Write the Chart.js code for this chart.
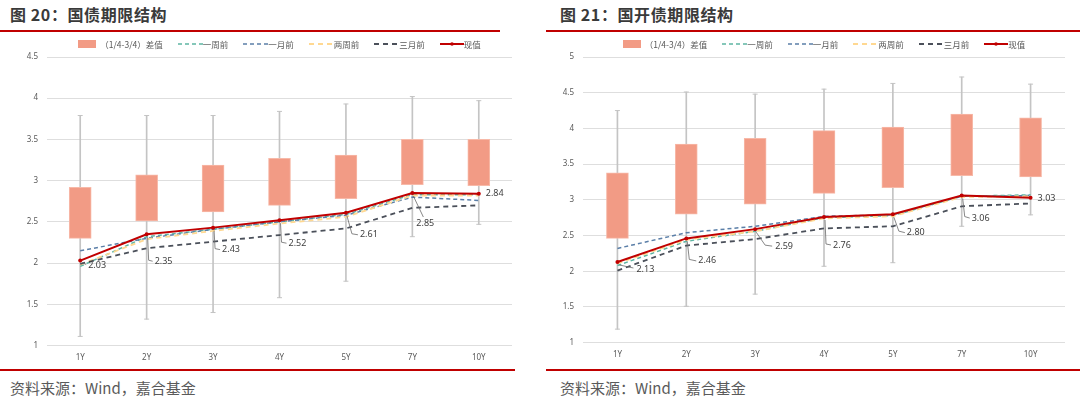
<!DOCTYPE html>
<html><head><meta charset="utf-8">
<script src="https://cdn.jsdelivr.net/npm/chart.js@4.4.0/dist/chart.umd.min.js"></script>
<style>
body{margin:0;background:#fff;width:1080px;height:401px;overflow:hidden;position:relative;font-family:"Noto Sans CJK SC","Noto Sans",sans-serif;}
.title{position:absolute;top:4px;font-size:16px;font-weight:bold;color:#3a3a3a;letter-spacing:0.6px;line-height:20px;white-space:nowrap;}
.rule{position:absolute;height:2px;background:#C00000;}
.src{position:absolute;top:377px;font-size:15px;color:#5a5a5a;line-height:22px;white-space:nowrap;}
.wrap{position:absolute;top:0;width:540px;height:370px;}
.legend{position:absolute;top:37px;height:14px;display:flex;align-items:center;justify-content:center;font-size:8.5px;color:#595959;white-space:nowrap;}
.legend .it{display:flex;align-items:center;margin:0 7.5px;}
.legend svg{display:block;}
</style></head>
<body>
<div class="title" style="left:10px">图 20：国债期限结构</div>
<div class="title" style="left:560px">图 21：国开债期限结构</div>
<div class="rule" style="left:0;top:30px;width:500px"></div>
<div class="rule" style="left:546px;top:30px;width:534px"></div>
<div class="rule" style="left:0;top:369px;width:515px"></div>
<div class="rule" style="left:546px;top:369px;width:534px"></div>
<div class="src" style="left:10px">资料来源：Wind，嘉合基金</div>
<div class="src" style="left:560px">资料来源：Wind，嘉合基金</div>
<div class="wrap" style="left:0"><canvas id="c1"></canvas></div>
<div class="wrap" style="left:540px"><canvas id="c2"></canvas></div>
<div class="legend" id="lg1" style="left:47px;width:465px"></div>
<div class="legend" id="lg2" style="left:583px;width:482px"></div>
<script>
// ---- data ----
const categories = ['1Y','2Y','3Y','4Y','5Y','7Y','10Y'];
const seriesNames = ['（1/4-3/4）差值','一周前','一月前','两周前','三月前','现值'];
// 国债
const gzMin = [1.11,1.32,1.40,1.58,1.78,2.32,2.47];
const gzMax = [3.79,3.79,3.79,3.84,3.93,4.02,3.97];
const gzQ1 = [2.30,2.51,2.62,2.70,2.78,2.95,2.94];
const gzQ3 = [2.92,3.07,3.19,3.27,3.31,3.50,3.50];
const gzWeek1 = [1.96,2.32,2.41,2.50,2.59,2.83,2.83];
const gzMonth1 = [2.15,2.30,2.41,2.50,2.58,2.80,2.76];
const gzWeek2 = [1.98,2.29,2.39,2.48,2.56,2.82,2.82];
const gzMonth3 = [1.99,2.18,2.26,2.34,2.42,2.67,2.70];
const gzNow = [2.03,2.35,2.43,2.52,2.61,2.85,2.84];
const gzTicks = {min:1, max:4.5, step:0.5};
// 国开债
const gkMin = [1.19,1.51,1.68,2.07,2.12,2.63,2.79];
const gkMax = [4.25,4.51,4.48,4.55,4.63,4.72,4.62];
const gkQ1 = [2.46,2.80,2.94,3.09,3.17,3.34,3.32];
const gkQ3 = [3.38,3.78,3.86,3.97,4.02,4.20,4.15];
const gkWeek1 = [2.08,2.42,2.56,2.75,2.78,3.05,3.07];
const gkMonth1 = [2.32,2.54,2.63,2.77,2.79,3.05,3.06];
const gkWeek2 = [2.11,2.44,2.56,2.74,2.77,3.04,3.05];
const gkMonth3 = [2.01,2.36,2.45,2.60,2.63,2.91,2.95];
const gkNow = [2.13,2.46,2.59,2.76,2.80,3.06,3.03];
const gkTicks = {min:1, max:5, step:0.5};

// ---- styles ----
const COL = {box:'#F29B85', boxBorder:'#F7B9A8', whisker:'#C4C4C4', week1:'#5DB5A3', month1:'#5B7FA8', week2:'#FFD891', month3:'#4B505A', now:'#C00000'};
const lineStyles = [
  {c:COL.week1, w:1.5, d:[4,3]},
  {c:COL.month1, w:1.5, d:[4,3]},
  {c:COL.week2, w:1.8, d:[5,4]},
  {c:COL.month3, w:1.8, d:[5,4]}
];
const labelLayout1 = [
  {dx:8, dy:5, path:[[2,2],[6,4]]},
  {dx:8, dy:27, path:[[1,3],[2,26],[6,27]]},
  {dx:9, dy:22, path:[[1,3],[2,21],[7,22]]},
  {dx:9, dy:23, path:[[1,3],[2,22],[7,23]]},
  {dx:14, dy:22, path:[[1,3],[6,21],[12,22]]},
  {dx:4, dy:30, path:[[1,3],[11,24]]},
  {dx:7, dy:0, path:null}
];
const labelLayout2 = [
  {dx:19, dy:7, path:[[2,3],[16,6]]},
  {dx:12, dy:22.5, path:[[1,3],[3,21],[10,22.5]]},
  {dx:20, dy:17, path:[[1,3],[10,16],[17,17]]},
  {dx:9, dy:28, path:[[1,3],[2,27],[7,28]]},
  {dx:14, dy:18.5, path:[[1,3],[6,17],[12,18.5]]},
  {dx:10, dy:22.5, path:[[1,3],[3,21],[8,22.5]]},
  {dx:7, dy:1, path:null}
];

const labelPlugin = {
  id:'nowLabels',
  afterDatasetsDraw(chart, args, opts){
    const idx = chart.data.datasets.findIndex(d=>d.label==='现值');
    const meta = chart.getDatasetMeta(idx);
    const ctx = chart.ctx;
    const data = chart.data.datasets[idx].data;
    ctx.save();
    ctx.font = '9px "Noto Sans","Noto Sans CJK SC",sans-serif';
    ctx.fillStyle = '#404040';
    ctx.textBaseline = 'middle';
    ctx.textAlign = 'left';
    meta.data.forEach((pt,i)=>{
      const L = opts.layout[i];
      if(L.path){
        ctx.beginPath();
        ctx.strokeStyle = '#6a6a6a';
        ctx.lineWidth = 0.8;
        L.path.forEach((p,j)=>{ const x=pt.x+p[0], y=pt.y+p[1]; if(j===0) ctx.moveTo(x,y); else ctx.lineTo(x,y); });
        ctx.stroke();
      }
      ctx.fillText(data[i].toFixed(2), pt.x+L.dx, pt.y+L.dy);
    });
    ctx.restore();
  }
};

function makeChart(id, d, ticks, pad, yWidth, layout){
  const ds = [
    {type:'bar', label:'whisker', data:d.min.map((v,i)=>[v,d.max[i]]), backgroundColor:COL.whisker, barThickness:1, grouped:false, order:10},
    {type:'line', label:'capMax', data:d.max, showLine:false, pointStyle:'line', pointRadius:2.5, borderColor:COL.whisker, borderWidth:1, order:9},
    {type:'line', label:'capMin', data:d.min, showLine:false, pointStyle:'line', pointRadius:2.5, borderColor:COL.whisker, borderWidth:1, order:9},
    {type:'bar', label:seriesNames[0], data:d.q1.map((v,i)=>[v,d.q3[i]]), backgroundColor:COL.box, borderColor:COL.boxBorder, borderWidth:1, borderSkipped:false, barThickness:22, grouped:false, order:8}
  ];
  [d.w1,d.m1,d.w2,d.m3].forEach((arr,k)=>{
    const s = lineStyles[k];
    ds.push({type:'line', label:seriesNames[k+1], data:arr, borderColor:s.c, borderWidth:s.w, borderDash:s.d, pointRadius:0, tension:0, fill:false, order:6-k});
  });
  ds.push({type:'line', label:'现值', data:d.now, borderColor:COL.now, backgroundColor:COL.now, borderWidth:2, pointRadius:2, pointBackgroundColor:COL.now, pointBorderWidth:0, tension:0, fill:false, order:0});
  return new Chart(document.getElementById(id), {
    data:{labels:categories, datasets:ds},
    options:{
      responsive:true, maintainAspectRatio:false, animation:false,
      layout:{padding:pad},
      plugins:{legend:{display:false}, tooltip:{enabled:false}, nowLabels:{layout:layout}},
      scales:{
        x:{type:'category', grid:{display:false, drawTicks:false}, border:{display:false},
           ticks:{color:'#595959', font:{size:8, family:'"Noto Sans",sans-serif'}, padding:7},
           afterFit:s=>{s.height=20;}},
        y:{min:ticks.min, max:ticks.max, grid:{color:'#DEDEDE', lineWidth:1, drawTicks:false}, border:{display:false},
           ticks:{stepSize:ticks.step, color:'#595959', font:{size:8, family:'"Noto Sans",sans-serif'}, padding:9,
                  callback:v=>String(Math.round(v*10)/10)},
           afterFit:s=>{s.width=yWidth;}}
      }
    },
    plugins:[labelPlugin]
  });
}

makeChart('c1', {min:gzMin,max:gzMax,q1:gzQ1,q3:gzQ3,w1:gzWeek1,m1:gzMonth1,w2:gzWeek2,m3:gzMonth3,now:gzNow}, gzTicks, {left:0,right:28,top:57,bottom:4.5}, 47, labelLayout1);
makeChart('c2', {min:gkMin,max:gkMax,q1:gkQ1,q3:gkQ3,w1:gkWeek1,m1:gkMonth1,w2:gkWeek2,m3:gkMonth3,now:gkNow}, gkTicks, {left:0,right:15,top:57,bottom:7.3}, 43, labelLayout2);

// ---- legends ----
function swatch(k){
  if(k===0) return '<svg width="18" height="8"><rect x="0" y="0" width="18" height="8" fill="'+COL.box+'"/></svg>';
  if(k===5) return '<svg width="24" height="6"><line x1="0" y1="3" x2="24" y2="3" stroke="'+COL.now+'" stroke-width="2"/><circle cx="12" cy="3" r="1.8" fill="'+COL.now+'"/></svg>';
  const s = lineStyles[k-1];
  return '<svg width="25" height="4"><line x1="0" y1="2" x2="25" y2="2" stroke="'+s.c+'" stroke-width="'+s.w+'" stroke-dasharray="'+s.d.join(',')+'"/></svg>';
}
['lg1','lg2'].forEach(id=>{
  document.getElementById(id).innerHTML = seriesNames.map((n,k)=>'<div class="it">'+swatch(k)+'<span style="margin-left:'+(k===0?'4px':'0')+'">'+n+'</span></div>').join('');
});
</script>
</body></html>
